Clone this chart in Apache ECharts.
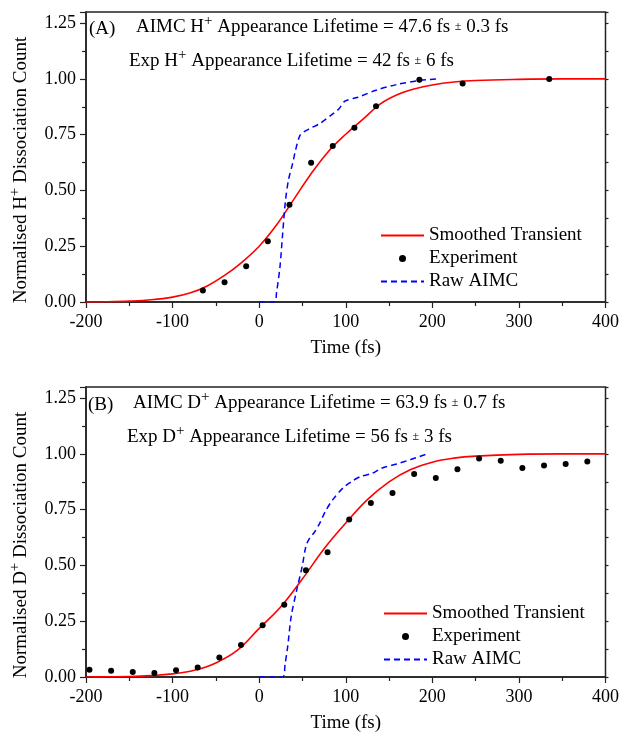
<!DOCTYPE html>
<html>
<head>
<meta charset="utf-8">
<script src="https://cdn.jsdelivr.net/npm/echarts@6/dist/echarts.min.js"></script>
<style>
  html, body { margin: 0; padding: 0; background: #fff; }
  #chart { width: 622px; height: 734px; }
</style>
</head>
<body>
<div id="chart"></div>
<script>
var myChart = echarts.init(document.getElementById('chart'));

var FONT = 'Liberation Serif';

// panel (A) H+
var fitTimeA = [-200, -175, -150, -125, -100, -80, -60, -40, -20, 0, 20, 40, 60, 80, 100, 120, 140, 160, 180, 200, 225, 250, 300, 350, 400];
var fitValA  = [0, 0.001, 0.004, 0.010, 0.022, 0.040, 0.072, 0.119, 0.178, 0.25, 0.345, 0.46, 0.575, 0.675, 0.752, 0.82, 0.888, 0.93, 0.956, 0.973, 0.986, 0.993, 0.998, 1.0, 1.0];
var expTimeA = [-65, -40, -15, 10, 35, 60, 85, 110, 135, 185, 235, 335];
var expValA  = [0.051, 0.088, 0.160, 0.272, 0.436, 0.624, 0.699, 0.781, 0.878, 0.996, 0.979, 1.0];
var rawTimeA = [0, 18, 20, 24, 27, 30.4, 34, 38.6, 42, 47, 52, 60, 70, 85, 92, 99, 114, 134, 159, 186, 206];
var rawValA  = [0, 0, 0.04, 0.157, 0.3, 0.455, 0.55, 0.62, 0.68, 0.746, 0.764, 0.78, 0.80, 0.843, 0.865, 0.9, 0.918, 0.948, 0.975, 0.993, 1.0];

// panel (B) D+
var fitTimeB = [-200, -175, -150, -125, -100, -75, -50, -25, 0, 25, 50, 75, 100, 125, 150, 175, 200, 225, 250, 300, 350, 400];
var fitValB  = [0, 0.001, 0.002, 0.006, 0.014, 0.03, 0.063, 0.12, 0.218, 0.315, 0.44, 0.575, 0.69, 0.795, 0.875, 0.93, 0.963, 0.981, 0.99, 0.998, 1.0, 1.0];
var expTimeB = [-196, -171, -146, -121, -96, -71, -46, -21, 4, 29, 54, 79, 104, 129, 154, 179, 204, 229, 254, 279, 304, 329, 354, 379];
var expValB  = [0.033, 0.028, 0.022, 0.018, 0.030, 0.043, 0.087, 0.143, 0.232, 0.324, 0.478, 0.559, 0.706, 0.780, 0.825, 0.910, 0.892, 0.931, 0.979, 0.969, 0.937, 0.948, 0.955, 0.966];
var rawTimeB = [0, 27, 30, 33, 37, 43.5, 49.7, 54, 58, 64, 70, 76.5, 85, 97, 107, 118, 130, 142, 159, 175, 194];
var rawValB  = [0, 0, 0.06, 0.138, 0.272, 0.392, 0.496, 0.586, 0.62, 0.65, 0.69, 0.743, 0.795, 0.848, 0.877, 0.9, 0.912, 0.937, 0.955, 0.975, 1.0];

var seriesNames = ['Smoothed Transient', 'Experiment', 'Raw AIMC'];

function zip(xs, ys) {
    var res = [];
    for (var i = 0; i < xs.length; i++) res.push([xs[i], ys[i]]);
    return res;
}

var textRich = {
    n: { fontSize: 19, fontFamily: FONT, color: '#000' },
    s: { fontSize: 15, fontFamily: FONT, color: '#000', padding: [0, 0, 11, 0] },
    p: { fontSize: 12, fontFamily: FONT, color: '#000' }
};

function xAxisFor(i) {
    return {
        type: 'value', gridIndex: i, min: -200, max: 400, interval: 100,
        name: 'Time (fs)', nameLocation: 'middle', nameGap: 37,
        nameTextStyle: { fontSize: 19, fontFamily: FONT, color: '#000' },
        axisLine: { onZero: false, lineStyle: { color: '#222', width: 1.5 } },
        axisTick: { length: 6, lineStyle: { color: '#222', width: 1.2 } },
        minorTick: { show: true, splitNumber: 2, length: 4, lineStyle: { color: '#222', width: 1.2 } },
        axisLabel: { fontSize: 18, fontFamily: FONT, color: '#000', margin: 11 },
        splitLine: { show: false }
    };
}

function yAxisFor(i, ion) {
    return {
        type: 'value', gridIndex: i, min: 0, max: 1.3, interval: 0.25,
        name: '{n|Normalised ' + ion + '}{s|+}{n| Dissociation Count}',
        nameLocation: 'middle', nameGap: 52,
        nameTextStyle: { padding: [0, 26, 0, 0], rich: textRich },
        axisLine: { onZero: false, lineStyle: { color: '#222', width: 1.5 } },
        axisTick: { length: 6, lineStyle: { color: '#222', width: 1.2 } },
        minorTick: { show: true, splitNumber: 2, length: 4, lineStyle: { color: '#222', width: 1.2 } },
        axisLabel: {
            fontSize: 18, fontFamily: FONT, color: '#000', margin: 10,
            formatter: function (v) {
                return Math.abs(v * 4 - Math.round(v * 4)) < 1e-6 ? v.toFixed(2) : '';
            }
        },
        splitLine: { show: false }
    };
}

function rightAxisFor(i) {
    return {
        type: 'value', gridIndex: i, min: 0, max: 1.3, interval: 0.25, position: 'right',
        axisLine: { show: false, onZero: false },
        axisTick: { length: 3, lineStyle: { color: '#222', width: 1.2 } },
        minorTick: { show: true, splitNumber: 2, length: 3, lineStyle: { color: '#222', width: 1.2 } },
        axisLabel: { show: false },
        splitLine: { show: false }
    };
}

function seriesFor(i, fit, exp, raw) {
    return [{
        name: seriesNames[0], type: 'line', xAxisIndex: i, yAxisIndex: i * 2,
        data: fit, smooth: 0.4, symbol: 'none',
        lineStyle: { color: '#ff0000', width: 1.6 }, itemStyle: { color: '#ff0000' }
    }, {
        name: seriesNames[1], type: 'scatter', xAxisIndex: i, yAxisIndex: i * 2,
        data: exp, symbolSize: 6, itemStyle: { color: '#000', opacity: 1 }, z: 3
    }, {
        name: seriesNames[2], type: 'line', xAxisIndex: i, yAxisIndex: i * 2,
        data: raw, smooth: 0.3, symbol: 'none',
        lineStyle: { color: '#0000ff', width: 1.5, type: [6, 4] }, itemStyle: { color: '#0000ff' }
    }];
}

function legendAt(left, top) {
    return {
        orient: 'vertical', left: left, top: top,
        itemWidth: 43, itemHeight: 7, itemGap: 4,
        textStyle: { fontSize: 19, fontFamily: FONT, color: '#000', lineHeight: 19 },
        data: [
            { name: seriesNames[0], itemStyle: { opacity: 0 } },
            { name: seriesNames[1], icon: 'circle', itemStyle: { opacity: 1 } },
            { name: seriesNames[2], itemStyle: { opacity: 0 } }
        ]
    };
}

function label(x, y, text) {
    return { type: 'text', left: x, top: y, style: { text: text, rich: textRich } };
}

option = {
    animation: false,
    backgroundColor: '#fff',
    grid: [
        { left: 84, top: 12, width: 522, height: 290, show: true, borderColor: '#222', borderWidth: 1.5 },
        { left: 84, top: 387, width: 522, height: 290, show: true, borderColor: '#222', borderWidth: 1.5 }
    ],
    xAxis: [xAxisFor(0), xAxisFor(1)],
    yAxis: [yAxisFor(0, 'H'), rightAxisFor(0), yAxisFor(1, 'D'), rightAxisFor(1)],
    legend: [legendAt(375, 221), legendAt(378, 599)],
    graphic: [
        label(89, 20, '{n|(A)}'),
        label(136, 14, '{n|AIMC H}{s|+}{n| Appearance Lifetime = 47.6 fs }{p|±}{n| 0.3 fs}'),
        label(129, 48, '{n|Exp H}{s|+}{n| Appearance Lifetime = 42 fs }{p|±}{n| 6 fs}'),
        label(88, 396, '{n|(B)}'),
        label(133, 390, '{n|AIMC D}{s|+}{n| Appearance Lifetime = 63.9 fs }{p|±}{n| 0.7 fs}'),
        label(127, 424, '{n|Exp D}{s|+}{n| Appearance Lifetime = 56 fs }{p|±}{n| 3 fs}')
    ],
    series: seriesFor(0, zip(fitTimeA, fitValA), zip(expTimeA, expValA), zip(rawTimeA, rawValA))
        .concat(seriesFor(1, zip(fitTimeB, fitValB), zip(expTimeB, expValB), zip(rawTimeB, rawValB)))
};

myChart.setOption(option);
</script>
</body>
</html>
